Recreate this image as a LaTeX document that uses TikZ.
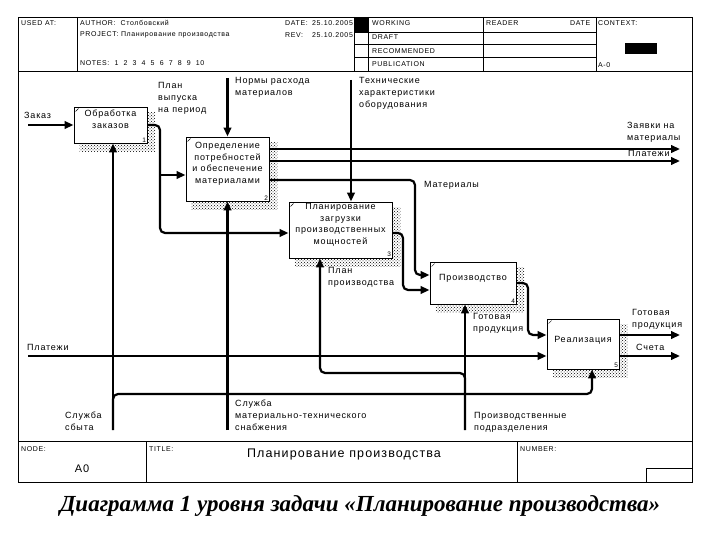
\documentclass[tikz,border=0pt]{standalone}
\usepackage{fontspec}
\setmainfont{Liberation Sans}
\newfontfamily\lsp{Liberation Sans}[LetterSpace=9]
\newfontfamily\capfont{Liberation Serif}
\usetikzlibrary{arrows.meta,calc,patterns,backgrounds}
\begin{document}
\begin{tikzpicture}[x=1pt,y=-1pt,
  frame/.style={line width=0.8pt},
  box/.style={draw, line width=0.9pt, fill=white, inner sep=0pt},
  btxt/.style={font=\lsp\fontsize{9}{11.5}\selectfont, align=center, inner sep=0pt},
  lbl/.style={font=\lsp\fontsize{9}{12}\selectfont, align=left, anchor=north west, inner sep=0pt},
  hdr/.style={font=\lsp\fontsize{7}{8}\selectfont, anchor=west, inner sep=0pt},
  num/.style={font=\fontsize{6.5}{7}\selectfont, anchor=south east, inner sep=1.2pt},
  conn/.style={line width=2.2pt, rounded corners=5pt},
  arr/.style={conn, -{Triangle[length=9pt,width=7.5pt]}},
  shadowfill/.style={pattern=crosshatch dots, pattern color=black}
]
\useasboundingbox (0,0) rectangle (720,540);

% ---------- frame and header ----------
\draw[frame] (18,17) rectangle (692,482);
\draw[frame] (18,71) -- (692,71);
\foreach \xx in {77,354,368,483,596} \draw[frame] (\xx,17) -- (\xx,71);
\foreach \yy in {32,44,57} \draw[frame] (354,\yy) -- (596,\yy);
\fill (354,17) rectangle (368,32);
\fill (625,43) rectangle (657,54);

\node[hdr] (hUsed) at (21,23) {USED AT:};
\node[hdr] (hAuth) at (80,23) {AUTHOR:\ \ Столбовский};
\node[hdr] (hProj) at (80,35) {PROJECT:\ Планирование производства};
\node[hdr] (hNotes) at (80,63) {NOTES:\ \ 1\ \ 2\ \ 3\ \ 4\ \ 5\ \ 6\ \ 7\ \ 8\ \ 9\ \ 10};
\node[hdr] (hDate) at (285,23) {DATE:};
\node[hdr] (hDateV) at (312,23) {25.10.2005};
\node[hdr] (hRev) at (285,35) {REV:};
\node[hdr] (hRevV) at (312,35) {25.10.2005};
\node[hdr] (hWork) at (372,23) {WORKING};
\node[hdr] (hDraft) at (372,37) {DRAFT};
\node[hdr] (hRec) at (372,51) {RECOMMENDED};
\node[hdr] (hPub) at (372,64) {PUBLICATION};
\node[hdr] (hRead) at (486,23) {READER};
\node[hdr] (hDate2) at (570,23) {DATE};
\node[hdr] (hCtx) at (598,23) {CONTEXT:};
\node[hdr] (hA) at (598,65) {A-0};

% ---------- title block ----------
\draw[frame] (18,441) -- (692,441);
\draw[frame] (146,441) -- (146,482);
\draw[frame] (517,441) -- (517,482);
\draw[frame] (646,482) -- (646,468) -- (692,468);
\node[hdr] (hNode) at (21,449) {NODE:};
\node[hdr] (hTitle) at (149,449) {TITLE:};
\node[hdr] (hNum) at (520,449) {NUMBER:};
\node[font=\lsp\fontsize{11}{12}\selectfont] (nA0) at (82,469) {A0};
\node[font=\lsp\fontsize{12.5}{14}\selectfont] (nTitle) at (344,454) {Планирование производства};

% ---------- caption ----------
\node[font=\capfont\bfseries\itshape\fontsize{23}{26}\selectfont] (cap) at (360,506)
  {Диаграмма 1 уровня задачи «Планирование производства»};

% ---------- boxes ----------
\node[box, minimum width=73pt, minimum height=36pt] (b1) at (110.5,125) {};
\node[box, minimum width=83pt, minimum height=64pt] (b2) at (227.5,169) {};
\node[box, minimum width=103pt, minimum height=56pt] (b3) at (340.5,230) {};
\node[box, minimum width=86pt, minimum height=42pt] (b4) at (473,283) {};
\node[box, minimum width=72pt, minimum height=50pt] (b5) at (583,344) {};

\node[btxt] (t1) at ($(b1.center)+(0,-6)$) {Обработка\\заказов};
\node[btxt] (t2) at ($(b2.center)+(0,-5)$) {Определение\\потребностей\\и обеспечение\\материалами};
\node[btxt] (t3) at ($(b3.center)+(0,-5)$) {Планирование\\загрузки\\производственных\\мощностей};
\node[btxt] (t4) at ($(b4.center)+(0,-5)$) {Производство};
\node[btxt] (t5) at ($(b5.center)+(0,-4)$) {Реализация};

\foreach \b/\n in {b1/1,b2/2,b3/3,b4/4,b5/5} {
  \node[num] (n\n) at (\b.south east) {\n};
  \draw[line width=0.5pt] ($(\b.north west)+(2,5)$) -- ($(\b.north west)+(5,2)$);
}

\begin{scope}[on background layer]
  \fill[white] (0,0) rectangle (720,540);
  \foreach \b in {b1,b2,b3,b4,b5}
    \fill[shadowfill] ($(\b.north west)+(6,6)$) rectangle ($(\b.south east)+(8,8)$);
\end{scope}

% ---------- connectors ----------
\coordinate (zIn) at (28,125);
\draw[arr] (zIn) -- (b1.west);

\coordinate (j1) at (160,175);
\coordinate (k1) at (160,233);
\draw[arr] (b1.east) -| (k1) -- (k1 -| b3.west);
\draw[arr] (j1) -- (j1 -| b2.west);

\coordinate (cN) at (227.5,78);
\draw[arr] (cN) -- (b2.north);
\coordinate (cT) at (351,80);
\draw[arr] (cT) -- (cT |- b3.north);

\coordinate (oZ) at (680,149);
\coordinate (oP) at (680,161);
\draw[arr] (b2.east |- oZ) -- (oZ);
\draw[arr] (b2.east |- oP) -- (oP);

\coordinate (m1) at (415,180);
\coordinate (m2) at (415,275);
\draw[arr] (b2.east |- m1) -- (m1) -- (m2) -- (m2 -| b4.west);

\coordinate (p1) at (403,233);
\coordinate (p2) at (403,290);
\draw[arr] (b3.east |- p1) -- (p1) -- (p2) -- (p2 -| b4.west);

\coordinate (g1) at (528,283);
\coordinate (g2) at (528,335);
\draw[arr] (b4.east) -- (g1) -- (g2) -- (g2 -| b5.west);

\coordinate (oG) at (680,335);
\coordinate (oS) at (680,356);
\draw[arr] (b5.east |- oG) -- (oG);
\draw[arr] (b5.east |- oS) -- (oS);

\coordinate (pIn) at (28,356);
\draw[arr] (pIn) -- (pIn -| b5.west);

\coordinate (mS) at (113,430);
\coordinate (s1) at (113,394);
\coordinate (s2) at (592,394);
\draw[arr] (mS) -- (mS |- b1.south);
\draw[arr] (mS) -- (s1) -- (s2) -- (s2 |- b5.south);

\coordinate (mM) at (227.5,430);
\draw[arr] (mM) -- (b2.south);

\coordinate (mP) at (465,430);
\coordinate (q1) at (465,373);
\coordinate (q2) at (320,373);
\draw[arr] (mP) -- (mP |- b4.south);
\draw[arr] (mP) -- (q1) -- (q2) -- (q2 |- b3.south);

% ---------- labels ----------
\node[lbl] (lZak) at (24,112) {Заказ};
\node[lbl] (lPlan) at (158,82) {План\\выпуска\\на период};
\node[lbl] (lNorm) at (235,77) {Нормы расхода\\материалов};
\node[lbl] (lTech) at (359,77) {Технические\\характеристики\\оборудования};
\node[lbl] (lZav) at (627,122) {Заявки на\\материалы};
\node[lbl] (lPl1) at (628,150) {Платежи};
\node[lbl] (lMat) at (424,181) {Материалы};
\node[lbl] (lPP) at (328,267) {План\\производства};
\node[lbl] (lGP1) at (473,313) {Готовая\\продукция};
\node[lbl] (lGP2) at (632,309) {Готовая\\продукция};
\node[lbl] (lSch) at (636,344) {Счета};
\node[lbl] (lPl2) at (27,344) {Платежи};
\node[lbl] (lSS) at (65,412) {Служба\\сбыта};
\node[lbl] (lMTS) at (235,400) {Служба\\материально-технического\\снабжения};
\node[lbl] (lPD) at (474,412) {Производственные\\подразделения};
\end{tikzpicture}
\end{document}
